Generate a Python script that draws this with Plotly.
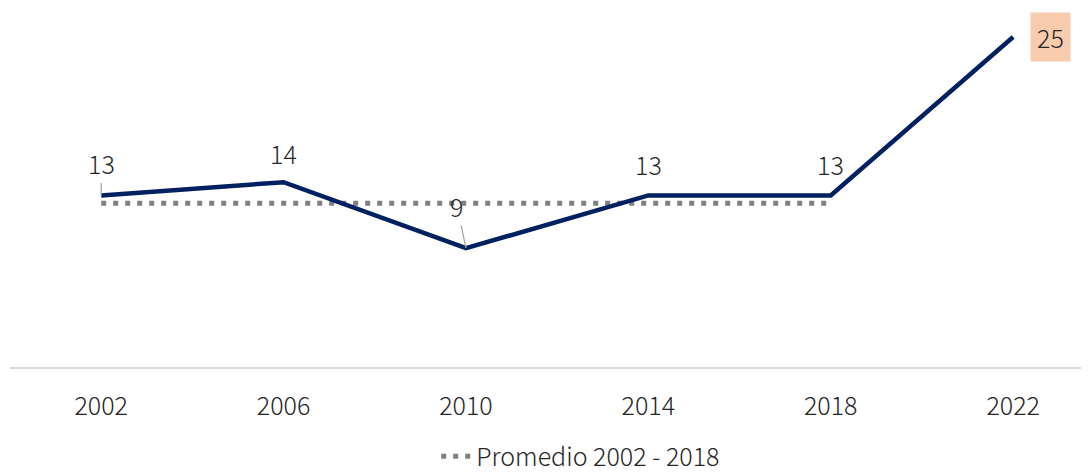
import plotly.graph_objects as go
import numpy as np

years = ["2002", "2006", "2010", "2014", "2018", "2022"]
values = [13, 14, 9, 13, 13, 25]
avg_label = "Promedio 2002 - 2018"
avg_value = round(float(np.mean(values[:5])), 1)

FONT = "Noto Sans CJK SC"
TXT = "#262626"
FS = 25

xi = list(range(len(years)))

fig = go.Figure()
fig.add_trace(go.Scatter(
    x=xi[:5], y=[avg_value] * 5, mode="lines",
    line=dict(color="#808080", width=5, dash="5px,7px"),
    name=avg_label, showlegend=True, hoverinfo="skip"))
fig.add_trace(go.Scatter(
    x=xi, y=values, mode="lines",
    line=dict(color="#002060", width=4.5),
    showlegend=False, name="Valor"))

offsets = {  # (ax, ay, showarrow)
    0: (0, -32, True),
    1: (0, -29, False),
    2: (-9, -42, True),
    3: (0, -31, False),
    4: (0, -31, False),
}
for i, v in enumerate(values):
    f = dict(family=FONT, size=FS, color=TXT, weight=300)
    if i == 5:
        fig.add_annotation(x=i, y=v, text=str(v), showarrow=False,
                           xshift=37, yshift=0,
                           bgcolor="#F8CBAD", borderpad=6, font=f)
        continue
    ax, ay, arr = offsets[i]
    if arr:
        fig.add_annotation(x=i, y=v, text=str(v), showarrow=True,
                           ax=ax, ay=ay, arrowhead=0, arrowwidth=1.3,
                           arrowcolor="#A6A6A6", standoff=0, font=f)
    else:
        fig.add_annotation(x=i, y=v, text=str(v), showarrow=False,
                           xshift=ax, yshift=-ay, font=f)

fig.update_layout(
    width=1089, height=472,
    margin=dict(l=2, r=8, t=0, b=113, autoexpand=False),
    paper_bgcolor="white", plot_bgcolor="white",
    font=dict(family=FONT, size=FS, color=TXT, weight=300),
    showlegend=True,
    legend=dict(orientation="h", x=0.395, xanchor="left",
                yref="container", y=0.05, yanchor="middle",
                font=dict(family=FONT, size=25, color=TXT, weight=300)),
    xaxis=dict(range=[-0.5, 5.416], showgrid=False,
               tickvals=xi, ticktext=years,
               showline=True, linecolor="#D9D9D9", linewidth=2,
               ticks="", ticklabelstandoff=16, zeroline=False,
               tickfont=dict(family=FONT, size=FS, color=TXT, weight=300)),
    yaxis=dict(range=[0, 27.2], visible=False, showgrid=False, zeroline=False),
)

fig.write_html("out.html")
